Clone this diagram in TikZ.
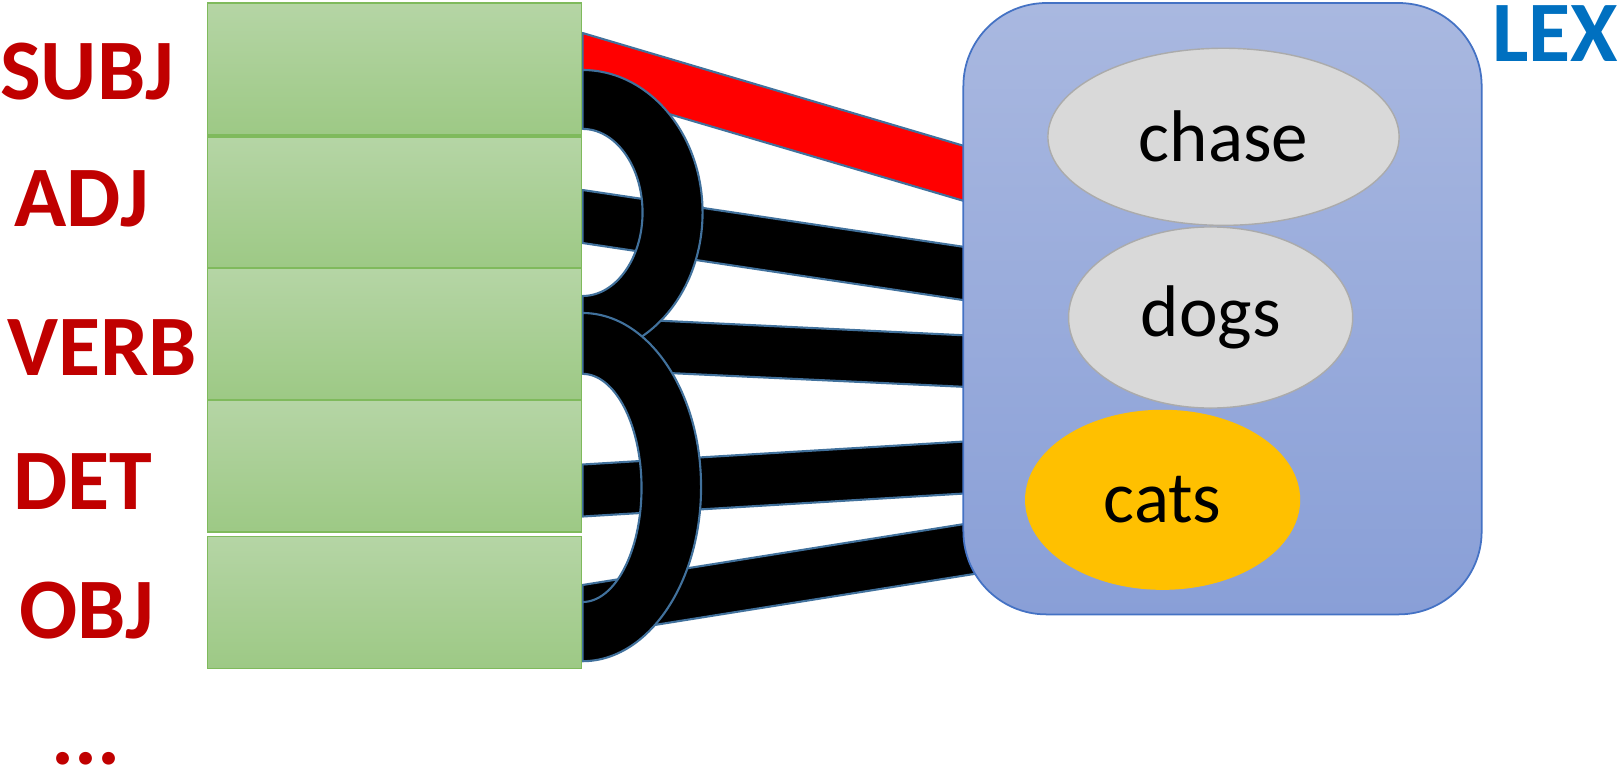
\documentclass[tikz,border=0pt]{standalone}
\usepackage{fontspec}
\setmainfont{Carlito}
\usetikzlibrary{shapes.geometric,backgrounds}
\definecolor{rojo}{HTML}{C00000}
\definecolor{azul}{HTML}{0070C0}
\definecolor{borde}{HTML}{41719C}
\definecolor{verdearriba}{HTML}{B5D5A5}
\definecolor{verdeabajo}{HTML}{9DC985}
\definecolor{verdeborde}{HTML}{7FBA5C}
\definecolor{lexarriba}{HTML}{A9B8E0}
\definecolor{lexabajo}{HTML}{899FD7}
\definecolor{lexborde}{HTML}{4472C4}
\definecolor{gris}{HTML}{D9D9D9}
\definecolor{grisborde}{HTML}{ABABAB}
\definecolor{naranja}{HTML}{FFC000}
\tikzset{
  casilla/.style={rectangle, draw=verdeborde, line width=0.5pt, top color=verdearriba,
    bottom color=verdeabajo, minimum width=3.74cm, minimum height=1.32cm, inner sep=0pt},
  etiqueta/.style={text=rojo, font=\fontsize{24.5}{28}\selectfont\bfseries, inner sep=0pt, anchor=base},
  banda/.style={fill=black, draw=borde, line width=0.6pt, line join=round},
  palabra/.style={ellipse, inner sep=0pt, font=\fontsize{20.8}{25}\selectfont},
}
\begin{document}
\begin{tikzpicture}[x=0.01cm, y=-0.01cm]
  \useasboundingbox (0,0) rectangle (1619,770);
  % las casillas verdes, con sus etiquetas a la izquierda
  \foreach \name/\y in {subj/69.3, adj/202.9, verb/334, det/466.2, obj/602.5}
    \node[casilla] (\name) at (394.5,\y) {};
  \foreach \name/\txt/\x/\y in {subj/SUBJ/87/99.5, adj/ADJ/81.7/226, verb/VERB/102.2/375,
                                det/DET/83/509.5, obj/OBJ/86.7/638}
    \node[etiqueta] (l\name) at (\x,\y) {\txt};
  \node[etiqueta] (puntos) at (86,764.5) {...};
  % el lexicon y sus tres palabras
  \node[rounded corners=0.83cm, draw=lexborde, line width=0.5pt, top color=lexarriba,
        bottom color=lexabajo, minimum width=5.18cm, minimum height=6.11cm] (lex) at (1222.5,308.7) {};
  \node[etiqueta, text=azul] (nlex) at (1555,62) {LEX};
  \node[palabra, fill=gris, draw=grisborde, minimum width=3.51cm, minimum height=1.77cm] (chase) at (1223.5,136.8) {chase};
  \node[palabra, fill=gris, draw=grisborde, minimum width=2.84cm, minimum height=1.81cm] (dogs) at (1210.6,317.5) {dogs};
  \node[palabra, fill=naranja, minimum width=2.75cm, minimum height=1.80cm] (cats) at (1162.6,499.8) {cats};
  % las bandas van por debajo del lexicon
  \coordinate (dentro) at ([xshift=2.7mm]lex.west);
  \begin{pgfonlayer}{background}
    \filldraw[banda, fill=red] (subj.east |- 0,33) -- (dentro |- 0,153.5) -- (dentro |- 0,208.5)
      -- (subj.east |- 0,88.5) -- cycle;
    \foreach \from/\ya/\yb/\yc/\yd in {adj/190/243/250.7/304, verb/317/369/336.5/388,
                                       det/464.5/516.5/440/492, obj/585/636.5/520/571.5} {
      \filldraw[banda] (\from.east |- 0,\ya) -- (dentro |- 0,\yc) -- (dentro |- 0,\yd)
        -- (\from.east |- 0,\yb) -- cycle;
    }
    % los dos arcos: subj con verb, y verb con obj
    \filldraw[banda] (subj.east |- 0,70) arc[start angle=90, end angle=-90, x radius=1.2cm, y radius=1.425cm]
      -- (verb.east |- 0,296) arc[start angle=-90, end angle=90, x radius=0.6cm, y radius=0.835cm] -- cycle;
    \filldraw[banda] (verb.east |- 0,313) arc[start angle=90, end angle=-90, x radius=1.185cm, y radius=1.74cm]
      -- (obj.east |- 0,602) arc[start angle=-90, end angle=90, x radius=0.59cm, y radius=1.14cm] -- cycle;
  \end{pgfonlayer}
\end{tikzpicture}
\end{document}
